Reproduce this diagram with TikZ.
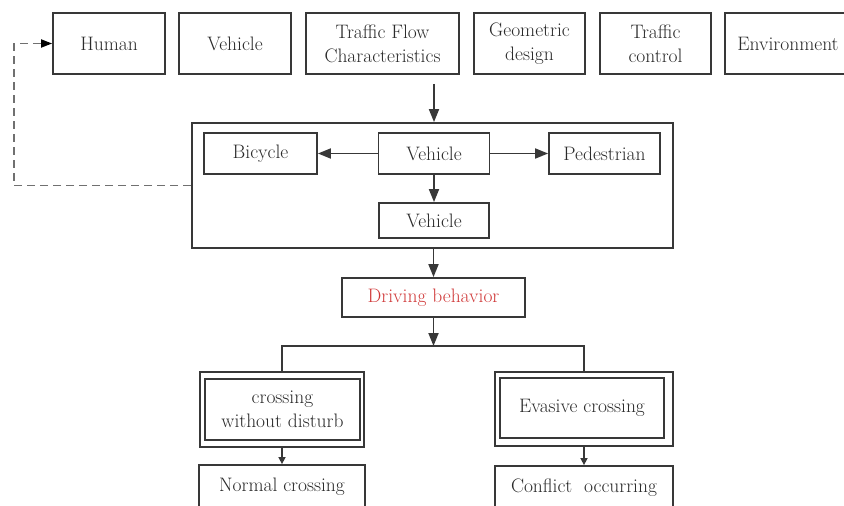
\documentclass[tikz,border=0pt]{standalone}
\usepackage{fontspec}
\usetikzlibrary{arrows.meta}
\definecolor{ln}{HTML}{383838}
\definecolor{tx}{HTML}{2A2A2A}
\definecolor{rd}{HTML}{D03A3A}
\definecolor{dsh}{HTML}{707070}
\begin{document}
\begin{tikzpicture}[x=1pt,y=-1pt,
  box/.style={draw=ln,line width=1.8pt,text=tx,align=center,inner sep=0pt,
    font=\fontsize{19.5}{24}\selectfont},
  topbox/.style={box,minimum height=61pt},
  midbox/.style={box,minimum height=41pt},
  outerbox/.style={draw=ln,line width=1.8pt,inner sep=0pt},
  arr/.style={draw=ln,line width=1.8pt,-{Triangle[length=13pt,width=10pt]}},
  sarr/.style={draw=ln,line width=1.5pt,-{Triangle[length=7pt,width=7pt]}},
  fbline/.style={draw=dsh,line width=1.8pt,dash pattern=on 8pt off 5pt,
    -{Triangle[length=11pt,width=8pt,fill=black,color=black]}},
  plain/.style={draw=ln,line width=1.8pt}]
\useasboundingbox (0,0) rectangle (844,506);
\clip (0,0) rectangle (844,506);
% top row
\node[topbox,minimum width=112pt] (human) at (109,43.5) {Human};
\node[topbox,minimum width=112pt] (veh1) at (235,43.5) {Vehicle};
\node[topbox,minimum width=153pt] (tfc) at (382.5,43.5) {Traffic Flow\\Characteristics};
\node[topbox,minimum width=111pt] (geo) at (529.5,43.5) {Geometric\\design};
\node[topbox,minimum width=111pt] (tctl) at (655.5,43.5) {Traffic\\control};
\node[topbox,minimum width=126pt] (env) at (788,43.5) {Environment};
% container
\node[outerbox,minimum width=481pt,minimum height=125pt] (cont) at (432.5,185.5) {};
\node[midbox,minimum width=113pt] (bic) at (260.5,153.5) {Bicycle};
\node[midbox,minimum width=111pt] (vm) at (434,153.5) {Vehicle};
\node[midbox,minimum width=111pt] (ped) at (604.5,153.5) {Pedestrian};
\node[box,minimum width=110pt,minimum height=35pt] (vl) at (434,220.5) {Vehicle};
% driving behavior
\node[box,text=rd,minimum width=183pt,minimum height=39pt] (drv) at (433.5,297.5) {Driving behavior};
% double boxes
\node[outerbox,minimum width=164pt,minimum height=75pt] (lo) at (282,409.5) {};
\node[box,minimum width=155pt,minimum height=61pt] (li) at (282.5,409.5) {crossing\\without disturb};
\node[outerbox,minimum width=178pt,minimum height=74pt] (ro) at (584,409) {};
\node[box,minimum width=164pt,minimum height=60pt] (ri) at (582,408) {Evasive crossing};
% bottom boxes
\node[box,minimum width=166pt,minimum height=43pt] (norm) at (282,486.5) {Normal crossing};
\node[box,minimum width=178pt,minimum height=43pt] (conf) at (584,487.5) {Conflict\ \ occurring};
% connectors
\draw[arr,shorten <=9pt] (tfc.south -| vm) -- (cont.north -| vm);
\draw[arr] (vm) -- (bic);
\draw[arr] (vm) -- (ped);
\draw[arr] (vm) -- (vl);
\draw[arr] (cont.south -| drv) -- (drv.north);
\coordinate (sp) at (433.5,346);
\draw[arr] (drv.south) -- (sp);
\draw[plain] (lo.north) |- (ro.north |- sp) -- (ro.north);
\draw[sarr] (lo.south) -- (norm.north -| lo);
\draw[sarr] (ro.south) -- (conf.north -| ro);
% feedback
\coordinate (fb1) at (14,185.5);
\coordinate (fb2) at (14,43.5);
\draw[fbline] (cont.west) -- (fb1) -- (fb2) -- (human.west);
\end{tikzpicture}
\end{document}
